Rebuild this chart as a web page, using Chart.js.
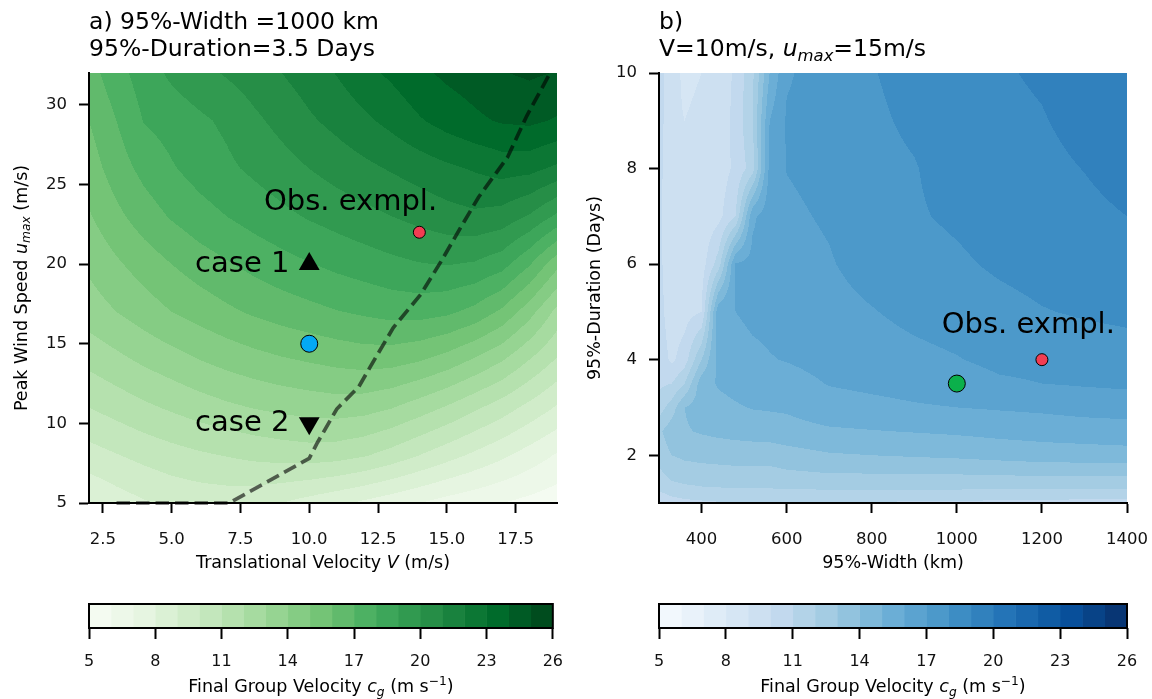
<!DOCTYPE html>
<html>
<head>
<meta charset="utf-8"/>
<title>Final group velocity</title>
<script src="https://cdn.jsdelivr.net/npm/chart.js@4.4.1/dist/chart.umd.min.js"></script>
<style>
  body { margin: 0; background: #fff; width: 1152px; height: 699px; position: relative; overflow: hidden; }
  canvas { position: absolute; }
</style>
</head>
<body>
<canvas id="cA" width="576" height="580" style="left:0;top:0"></canvas>
<canvas id="cB" width="600" height="580" style="left:576px;top:0"></canvas>
<canvas id="cbA" width="576" height="119" style="left:0;top:580px"></canvas>
<canvas id="cbB" width="576" height="119" style="left:576px;top:580px"></canvas>
<script>
// ---- panel a: cg(V, umax) ----
const aV = [2, 3, 4, 5, 6, 7, 8, 9, 10, 11, 12, 13, 14, 15, 16, 17, 18, 19];
const aU = [5, 8, 11, 14, 17, 20, 23, 26, 29, 32];
const cgA = [
  [8.0, 8.5, 8.9, 9.2, 9.35, 9.4, 9.3, 9.0, 8.6, 8.2, 7.8, 7.4, 7.0, 6.6, 6.3, 6.0, 5.7, 5.4],          // u=5
  [9.6, 9.95, 10.3, 10.6, 10.85, 11.05, 11.25, 11.4, 11.5, 11.4, 11.1, 10.6, 10.0, 9.4, 8.8, 8.2, 7.55, 6.9], // u=8
  [11.0, 11.4, 11.8, 12.15, 12.5, 12.8, 13.05, 13.25, 13.4, 13.5, 13.4, 13.05, 12.5, 11.9, 11.2, 10.5, 9.7, 8.9],
  [12.3, 12.75, 13.2, 13.6, 14.0, 14.35, 14.65, 14.9, 15.1, 15.3, 15.45, 15.4, 15.1, 14.6, 13.9, 13.1, 12.0, 10.9],
  [13.5, 14.0, 14.5, 15.0, 15.4, 15.8, 16.15, 16.45, 16.7, 16.95, 17.15, 17.35, 17.4, 17.2, 16.7, 15.8, 14.4, 12.7],
  [14.2, 14.85, 15.45, 16.0, 16.5, 16.9, 17.3, 17.65, 17.95, 18.25, 18.5, 18.75, 18.95, 19.05, 18.9, 18.4, 17.1, 15.3],
  [14.9, 15.75, 16.5, 17.1, 17.6, 18.0, 18.4, 18.75, 19.1, 19.4, 19.7, 20.0, 20.3, 20.6, 20.8, 20.6, 19.9, 18.8],
  [15.5, 16.5, 17.3, 17.9, 18.4, 18.8, 19.2, 19.6, 20.0, 20.4, 20.75, 21.1, 21.45, 21.8, 22.1, 22.4, 22.3, 21.8],
  [16.0, 17.0, 18.05, 18.4, 18.8, 19.2, 19.8, 20.3, 20.85, 21.3, 21.8, 22.3, 22.9, 23.4, 23.8, 24.1, 24.2, 23.9],
  [16.6, 17.6, 18.5, 19.2, 19.7, 20.1, 20.5, 21.0, 21.5, 22.05, 22.7, 23.2, 23.8, 24.2, 24.5, 24.95, 25.15, 24.95] // u=32
];
// optimum V for each umax (dashed line)
const dashV = [3, 7.1, 10, 10.3, 11, 11.8, 12.2, 13.05, 14.05, 14.8, 15.5, 16.15, 17.2, 17.9, 18.75];
const dashU = [5, 5, 7.8, 8.8, 10.9, 12.3, 13.5, 16.0, 18.1, 20.2, 22.3, 24.2, 26.7, 29.3, 32];
const obsA = [14, 22];
const dotA = [10, 15];
const case1 = [10, 20];
const case2 = [10, 10];

// ---- panel b: cg(width, duration) ----
const bW = [300, 330, 360, 400, 440, 480, 520, 560, 600, 700, 800, 900, 1000, 1100, 1200, 1300, 1400];
const bD = [1, 1.25, 1.5, 2, 2.5, 3, 3.5, 4, 5, 6, 7, 8, 9, 10];
const cgB = [
  [10.2, 10.5, 10.7, 10.8, 10.9, 10.95, 11.0, 11.0, 11.0, 10.95, 10.9, 10.85, 10.8, 10.75, 10.7, 10.65, 10.6], // D=1
  [11.0, 11.4, 11.6, 11.75, 11.8, 11.85, 11.85, 11.85, 11.9, 11.9, 11.9, 11.9, 11.9, 11.85, 11.8, 11.8, 11.8],
  [11.6, 12.1, 12.3, 12.4, 12.45, 12.5, 12.5, 12.5, 12.6, 12.7, 12.7, 12.7, 12.7, 12.75, 12.75, 12.8, 12.8],
  [12.4, 13.0, 13.2, 13.3, 13.35, 13.4, 13.4, 13.4, 13.6, 13.9, 14.0, 14.1, 14.2, 14.35, 14.5, 14.55, 14.6],
  [12.8, 13.6, 13.9, 14.1, 14.25, 14.35, 14.45, 14.5, 14.6, 14.85, 14.95, 15.05, 15.15, 15.3, 15.4, 15.5, 15.6],
  [11.5, 12.5, 14.0, 14.5, 14.7, 14.9, 15.05, 15.1, 15.15, 15.6, 15.75, 15.9, 16.0, 16.1, 16.2, 16.35, 16.4],
  [10.8, 11.0, 12.0, 14.6, 15.1, 15.3, 15.45, 15.5, 15.6, 16.05, 16.2, 16.35, 16.5, 16.85, 17.0, 17.1, 17.2],
  [10.6, 9.8, 10.5, 13.0, 15.4, 15.6, 15.8, 15.95, 16.05, 16.35, 16.55, 16.75, 16.95, 17.25, 17.3, 17.5, 17.6],
  [10.4, 9.4, 9.6, 10.0, 15.75, 16.0, 16.2, 16.25, 16.4, 16.7, 16.95, 17.25, 17.45, 17.7, 17.95, 18.1, 18.2],
  [10.3, 9.2, 9.3, 9.5, 11.5, 16.1, 16.35, 16.45, 16.65, 16.93, 17.35, 17.65, 17.85, 18.15, 18.35, 18.5, 18.6],
  [10.3, 9.0, 9.1, 9.3, 9.7, 11.0, 15.8, 16.6, 16.85, 17.1, 17.6, 17.9, 18.15, 18.45, 18.6, 18.8, 19.0],
  [10.4, 9.0, 9.0, 9.2, 9.5, 10.2, 11.5, 16.3, 17.02, 17.25, 17.75, 17.95, 18.4, 18.65, 18.8, 19.02, 19.3],
  [10.5, 9.1, 9.0, 9.1, 9.4, 10.3, 12.0, 16.0, 17.1, 17.35, 17.85, 18.15, 18.6, 18.8, 18.95, 19.25, 19.55],
  [10.5, 9.2, 8.9, 9.0, 9.3, 10.2, 11.8, 15.0, 16.9, 17.45, 17.95, 18.3, 18.8, 18.92, 19.1, 19.45, 19.75]  // D=10
];
const obsB = [1200, 4];
const dotB = [1000, 3.5];

// ---- ticks and contour levels ----
const xTicksA = [2.5, 5, 7.5, 10, 12.5, 15, 17.5];
const yTicksA = [5, 10, 15, 20, 25, 30];
const xTicksB = [400, 600, 800, 1000, 1200, 1400];
const yTicksB = [2, 4, 6, 8, 10];
const levels = [5, 6, 7, 8, 9, 10, 11, 12, 13, 14, 15, 16, 17, 18, 19, 20, 21, 22, 23, 24, 25, 26];
const cbTicks = [5, 8, 11, 14, 17, 20, 23, 26];

const greensStops = ['#f7fcf5', '#e5f5e0', '#c7e9c0', '#a1d99b', '#74c476', '#41ab5d', '#238b45', '#006d2c', '#00441b'];
const bluesStops = ['#f7fbff', '#deebf7', '#c6dbef', '#9ecae1', '#6baed6', '#4292c6', '#2171b5', '#08519c', '#08306b'];

const FONT = '"DejaVu Sans"';

function hexRgb(h) { return [1, 3, 5].map(i => parseInt(h.substr(i, 2), 16)); }
function bandColors(stops) {
  const n = levels.length - 1, out = [];
  for (let k = 0; k < n; k++) {
    const t = (k + 0.5) / n * (stops.length - 1);
    const i = Math.min(Math.floor(t), stops.length - 2), f = t - i;
    const a = hexRgb(stops[i]), b = hexRgb(stops[i + 1]);
    out.push(a.map((c, j) => Math.round(c + (b[j] - c) * f)));
  }
  return out;
}
const greens = bandColors(greensStops);
const blues = bandColors(bluesStops);
const rgb = c => `rgb(${c[0]},${c[1]},${c[2]})`;

function seg(arr, v) {
  for (let i = 0; i < arr.length - 2; i++) if (v <= arr[i + 1]) return i;
  return arr.length - 2;
}
function bilinear(xs, ys, g, xv, yv) {
  const i = seg(xs, xv), j = seg(ys, yv);
  const tx = Math.min(1, Math.max(0, (xv - xs[i]) / (xs[i + 1] - xs[i])));
  const ty = Math.min(1, Math.max(0, (yv - ys[j]) / (ys[j + 1] - ys[j])));
  return g[j][i] * (1 - tx) * (1 - ty) + g[j][i + 1] * tx * (1 - ty) +
         g[j + 1][i] * (1 - tx) * ty + g[j + 1][i + 1] * tx * ty;
}

// filled contours, drawn under the markers
function contourPlugin(xs, ys, grid, colors) {
  return {
    id: 'contourf',
    beforeDatasetsDraw(chart) {
      const { ctx, chartArea: a, scales: { x, y } } = chart;
      const w = Math.round(a.right - a.left), h = Math.round(a.bottom - a.top);
      const off = document.createElement('canvas');
      off.width = w; off.height = h;
      const octx = off.getContext('2d');
      const img = octx.createImageData(w, h);
      const xv = [];
      for (let i = 0; i < w; i++) xv.push(x.getValueForPixel(a.left + i + 0.5));
      for (let j = 0; j < h; j++) {
        const yv = y.getValueForPixel(a.top + j + 0.5);
        for (let i = 0; i < w; i++) {
          const v = bilinear(xs, ys, grid, xv[i], yv);
          let k = Math.floor(v - levels[0]);
          k = Math.max(0, Math.min(colors.length - 1, k));
          const c = colors[k], p = (j * w + i) * 4;
          img.data[p] = c[0]; img.data[p + 1] = c[1]; img.data[p + 2] = c[2]; img.data[p + 3] = 255;
        }
      }
      octx.putImageData(img, 0, 0);
      ctx.drawImage(off, a.left, a.top);
    }
  };
}

// text with italic / sub / superscript pieces
function drawRich(ctx, parts, x, y, size, align, rot) {
  ctx.save();
  ctx.translate(x, y);
  ctx.rotate(rot || 0);
  ctx.textBaseline = 'alphabetic';
  ctx.textAlign = 'left';
  ctx.fillStyle = '#000';
  const fonts = parts.map(p => {
    const s = p[1] || '';
    const small = s.includes('sub') || s.includes('sup');
    return (s.startsWith('i') ? 'italic ' : '') + (small ? size * 0.7 : size) + 'px ' + FONT;
  });
  const widths = parts.map((p, i) => { ctx.font = fonts[i]; return ctx.measureText(p[0]).width; });
  const total = widths.reduce((s, v) => s + v, 0);
  let cx = align === 'center' ? -total / 2 : 0;
  parts.forEach((p, i) => {
    const s = p[1] || '';
    let dy = 0;
    if (s.includes('sub')) dy = size * 0.2;
    if (s.includes('sup')) dy = -size * 0.4;
    ctx.font = fonts[i];
    ctx.fillText(p[0], cx, dy);
    cx += widths[i];
  });
  ctx.restore();
}

function labelsPlugin(cfg) {
  return {
    id: 'labels',
    afterDatasetsDraw(chart) {
      const { ctx, scales: { x, y } } = chart;
      ctx.save();
      ctx.font = '29px ' + FONT;
      ctx.fillStyle = '#000';
      ctx.textBaseline = 'middle';
      cfg.notes.forEach(n => {
        ctx.textAlign = n.align;
        ctx.fillText(n.text, x.getPixelForValue(n.at[0]), y.getPixelForValue(n.at[1]));
      });
      ctx.restore();
    },
    afterDraw(chart) {
      const { ctx, chartArea: a } = chart;
      drawRich(ctx, cfg.title1, a.left, 29, 23.5, 'left');
      drawRich(ctx, cfg.title2, a.left, 56, 23.5, 'left');
      drawRich(ctx, cfg.xTitle, (a.left + a.right) / 2, 568, 17.5, 'center');
      drawRich(ctx, cfg.yTitle, cfg.yTitleX, (a.top + a.bottom) / 2, 17.5, 'center', -Math.PI / 2);
    }
  };
}

function axis(min, max, ticks, fmt, isX, size) {
  return {
    type: 'linear', min: min, max: max,
    afterBuildTicks: s => { s.ticks = ticks.map(v => ({ value: v })); },
    afterFit: s => { if (isX) s.height = size; else s.width = size; },
    grid: { drawOnChartArea: false, drawTicks: true, tickLength: 10, tickWidth: 2, tickColor: '#000' },
    border: { display: true, color: '#000', width: 2, z: 1 },
    ticks: { font: { family: 'DejaVu Sans', size: 16.5 }, color: '#111', padding: isX ? 17 : 12,
             maxRotation: 0, autoSkip: false, callback: fmt }
  };
}

function marker(pt, r, fill, style, rot) {
  return {
    data: [{ x: pt[0], y: pt[1] }], pointRadius: r, pointStyle: style || 'circle', rotation: rot || 0,
    backgroundColor: fill, borderColor: '#000', borderWidth: style ? 0 : 1, clip: false
  };
}

function panel(id, xs, ys, grid, colors, opts) {
  return new Chart(document.getElementById(id), {
    type: 'scatter',
    data: { datasets: opts.datasets },
    options: {
      responsive: false, animation: false, events: [],
      layout: { padding: { left: 0, right: opts.padRight, top: 73, bottom: 0 } },
      plugins: { legend: { display: false }, tooltip: { enabled: false } },
      scales: {
        x: axis(opts.xMin, opts.xMax, opts.xTicks, opts.xFmt, true, 77),
        y: axis(opts.yMin, opts.yMax, opts.yTicks, v => String(v), false, opts.yWidth)
      }
    },
    plugins: [contourPlugin(xs, ys, grid, colors), labelsPlugin(opts.text)]
  });
}

panel('cA', aV, aU, cgA, greens, {
  xMin: 2, xMax: 19, yMin: 5, yMax: 32, xTicks: xTicksA, yTicks: yTicksA,
  xFmt: v => v.toFixed(1), padRight: 19, yWidth: 89,
  datasets: [
    { data: dashV.map((v, i) => ({ x: v, y: dashU[i] })), showLine: true, pointRadius: 0,
      borderColor: 'rgba(0,0,0,0.6)', borderWidth: 3.7, borderDash: [13.5, 6], tension: 0, clip: false },
    marker(obsA, 6, '#f23d52'),
    marker(dotA, 8.5, '#03a9f4'),
    marker(case1, 12, '#000', 'triangle'),
    marker(case2, 12, '#000', 'triangle', 180)
  ],
  text: {
    notes: [
      { text: 'Obs. exmpl.', at: [11.5, 23.85], align: 'center' },
      { text: 'case 1', at: [9.28, 20], align: 'right' },
      { text: 'case 2', at: [9.28, 10], align: 'right' }
    ],
    title1: [['a) 95%-Width =1000 km']],
    title2: [['95%-Duration=3.5 Days']],
    xTitle: [['Translational Velocity '], ['V', 'i'], [' (m/s)']],
    yTitle: [['Peak Wind Speed '], ['u', 'i'], ['max', 'isub'], [' (m/s)']],
    yTitleX: 26.5
  }
});

// canvas b is wider than the page so the last tick label does not squeeze the plot
panel('cB', bW, bD, cgB, blues, {
  xMin: 300, xMax: 1400, yMin: 1, yMax: 10, xTicks: xTicksB, yTicks: yTicksB,
  xFmt: v => String(v), padRight: 49, yWidth: 83,
  datasets: [
    marker(obsB, 6, '#f23d52'),
    marker(dotB, 8.5, '#0bb04b')
  ],
  text: {
    notes: [{ text: 'Obs. exmpl.', at: [1168, 4.72], align: 'center' }],
    title1: [['b)']],
    title2: [['V=10m/s, '], ['u', 'i'], ['max', 'isub'], ['=15m/s']],
    xTitle: [['95%-Width (km)']],
    yTitle: [['95%-Duration (Days)']],
    yTitleX: 23.5
  }
});

function colorbar(id, colors, padLeft, padRight) {
  return new Chart(document.getElementById(id), {
    type: 'bar',
    data: {
      labels: ['cg'],
      datasets: colors.map((c, k) => ({
        data: [[levels[k], levels[k + 1]]], backgroundColor: rgb(c), borderWidth: 0,
        grouped: false, barPercentage: 1, categoryPercentage: 1
      }))
    },
    options: {
      indexAxis: 'y', responsive: false, animation: false, events: [],
      layout: { padding: { left: padLeft, right: padRight, top: 24, bottom: 0 } },
      plugins: { legend: { display: false }, tooltip: { enabled: false } },
      scales: {
        x: {
          type: 'linear', min: levels[0], max: levels[levels.length - 1],
          afterBuildTicks: s => { s.ticks = cbTicks.map(v => ({ value: v })); },
          afterFit: s => { s.height = 71; },
          grid: { drawOnChartArea: false, drawTicks: true, tickLength: 11, tickWidth: 2, tickColor: '#000' },
          border: { display: false },
          ticks: { font: { family: 'DejaVu Sans', size: 16 }, color: '#111', padding: 13, maxRotation: 0, autoSkip: false }
        },
        y: { display: false }
      }
    },
    plugins: [{
      id: 'cbframe',
      afterDraw(chart) {
        const { ctx, chartArea: a } = chart;
        ctx.save();
        ctx.strokeStyle = '#000';
        ctx.lineWidth = 2;
        ctx.strokeRect(a.left, a.top, a.right - a.left, a.bottom - a.top);
        ctx.restore();
        drawRich(ctx, [['Final Group Velocity '], ['c', 'i'], ['g', 'isub'], [' (m s'], ['\u22121', 'sup'], [')']],
                 (a.left + a.right) / 2, 112, 17.5, 'center');
      }
    }]
  });
}

colorbar('cbA', greens, 89, 19);
colorbar('cbB', blues, 83, 25);
</script>
</body>
</html>
